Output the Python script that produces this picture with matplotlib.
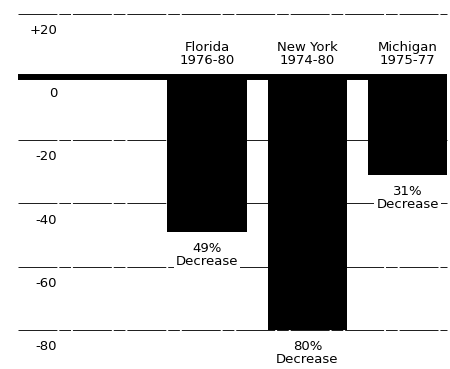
import matplotlib
matplotlib.use("Agg")
import matplotlib.pyplot as plt

plt.rcParams['font.family'] = ['DejaVu Sans']

states = ['Florida', 'New York', 'Michigan']
periods = ['1976-80', '1974-80', '1975-77']
change = [-49, -80, -31]
pct_labels = ['49%', '80%', '31%']
grid_values = [20, 0, -20, -40, -60, -80]
grid_labels = ['+20', '0', '-20', '-40', '-60', '-80']

fig = plt.figure(figsize=(4.5, 3.69), dpi=100)
ax = fig.add_axes([0, 0, 1, 1])
ax.set_xlim(-2.06, 2.42)
ax.set_ylim(-92.4, 24.4)
ax.axis('off')

x = list(range(len(states)))

# gridlines (the zero line is the heavy one)
for v, lab in zip(grid_values, grid_labels):
    if v == 0:
        ax.hlines(v, -1.88, 2.39, color='black', linewidth=4.3, zorder=3)
    else:
        ax.hlines(v, -1.88, 2.39, color='#1a1a1a', linewidth=0.7,
                  linestyle=(0, (40, 2, 12, 2)), zorder=1)
    ax.text(-1.49, v - 3.2, lab, ha='right', va='top', fontsize=9.5)

ax.bar(x, change, width=0.79, color='black', align='center', zorder=2)

for xi, s, p in zip(x, states, periods):
    ax.text(xi, 3.3, s + '\n' + p, ha='center', va='bottom', fontsize=9.5,
            linespacing=1.0)

for xi, v, lab in zip(x, change, pct_labels):
    ax.annotate(lab + '\nDecrease', (xi, v), xytext=(0, -7.5),
                textcoords='offset points', ha='center', va='top',
                fontsize=9.5, linespacing=1.0, zorder=4,
                bbox=dict(facecolor='white', edgecolor='none', pad=1.5))

fig.savefig('out.png', dpi=100)
